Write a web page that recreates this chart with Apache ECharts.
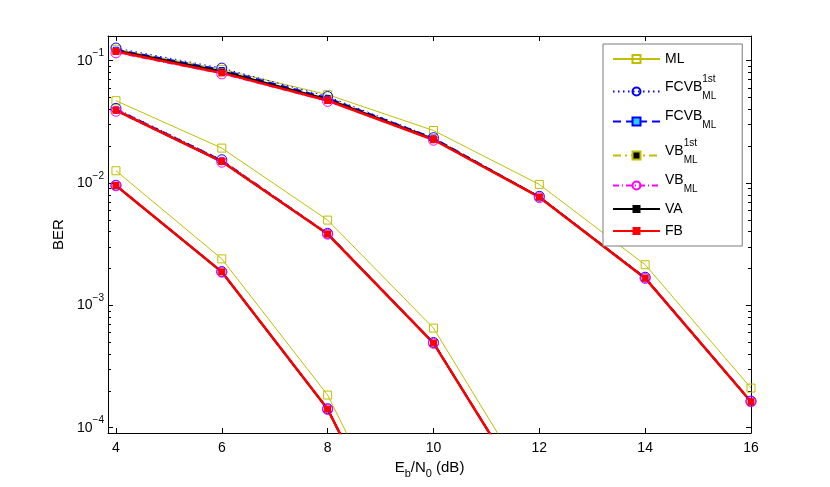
<!DOCTYPE html>
<html lang="en">
<head>
    <meta charset="UTF-8">
    <title>BER vs Eb/N0</title>
    <script src="https://cdn.jsdelivr.net/npm/echarts@6.0.0/dist/echarts.min.js"></script>
</head>
<body style="margin:0;background:#fff;">
    <div id="chart" style="width: 830px; height: 487px;"></div>

    <script>
        // Eb/N0 points (dB) for the three groups of curves
        const snrHigh = [4, 6, 8, 10, 12, 14, 16];
        const snrMid = [4, 6, 8, 10, 12];
        const snrLow = [4, 6, 8, 10];

        // BER, one array per group: [high, mid, low]
        const berML = [
            [0.124, 0.085, 0.0528, 0.0269, 0.00975, 0.00215, 2.11e-4],
            [0.0471, 0.0193, 0.00498, 6.52e-4, 2.5e-5],
            [0.0126, 0.0024, 1.85e-4, 3.4e-6]
        ];
        const berFCVB1st = [
            [0.127, 0.087, 0.051, 0.0235, 0.0078, 1.70e-3, 1.65e-4],
            [0.0408, 0.0155, 3.88e-3, 4.97e-4, 2.0e-5],
            [9.6e-3, 1.89e-3, 1.43e-4, 2.7e-6]
        ];
        const berFCVB = [
            [0.123, 0.084, 0.0495, 0.0233, 0.0077, 1.68e-3, 1.64e-4],
            [0.0400, 0.0153, 3.86e-3, 4.95e-4, 2.0e-5],
            [9.55e-3, 1.88e-3, 1.42e-4, 2.7e-6]
        ];
        const berVB1st = [
            [0.120, 0.0815, 0.048, 0.0229, 0.0077, 1.67e-3, 1.63e-4],
            [0.0396, 0.0151, 3.84e-3, 4.93e-4, 2.0e-5],
            [9.55e-3, 1.88e-3, 1.42e-4, 2.7e-6]
        ];
        const berVB = [
            [0.116, 0.078, 0.0465, 0.0224, 0.0076, 1.66e-3, 1.63e-4],
            [0.0386, 0.0148, 3.82e-3, 4.9e-4, 2.0e-5],
            [9.5e-3, 1.87e-3, 1.41e-4, 2.7e-6]
        ];
        const berVA = [
            [0.121, 0.082, 0.0485, 0.0229, 0.0077, 1.67e-3, 1.63e-4],
            [0.0395, 0.0150, 3.83e-3, 4.92e-4, 2.0e-5],
            [9.55e-3, 1.88e-3, 1.42e-4, 2.7e-6]
        ];
        const berFB = [
            [0.119, 0.0795, 0.0473, 0.0226, 0.00767, 1.67e-3, 1.63e-4],
            [0.0393, 0.0150, 3.83e-3, 4.92e-4, 2.0e-5],
            [9.55e-3, 1.88e-3, 1.42e-4, 2.7e-6]
        ];

        // ticks
        const xTicks = [4, 6, 8, 10, 12, 14, 16];
        const yDecades = [-4, -3, -2, -1];   // exponents of 10
        const yMinorMult = [2, 3, 4, 5, 6, 7, 8, 9];

        const font = '"Liberation Sans", Arial, Helvetica, sans-serif';
        const olive = '#bfbf00';

        // y is drawn as log10(BER) on a value axis
        const yMin = -4.043, yMax = -0.798;
        const yMinor = [];
        [-5, -4, -3, -2, -1].forEach(e => yMinorMult.forEach(k => {
            const v = e + Math.log10(k);
            if (v > yMin && v < yMax) yMinor.push(v);
        }));

        const snrGroups = [snrHigh, snrMid, snrLow];
        const methods = [
            {
                name: 'ML', ber: berML, symbol: 'rect', symbolSize: 8,
                lineStyle: { color: olive, width: 1 },
                itemStyle: { color: 'rgba(0,0,0,0)', borderColor: olive, borderWidth: 1 }
            },
            {
                name: 'FCVB1st', ber: berFCVB1st, symbol: 'circle', symbolSize: 10,
                lineStyle: { color: '#0000ff', width: 1, type: [1.5, 3.5] },
                itemStyle: { color: 'rgba(0,0,0,0)', borderColor: '#0000ff', borderWidth: 1 }
            },
            {
                name: 'FCVB', ber: berFCVB, symbol: 'rect', symbolSize: 5,
                lineStyle: { color: '#0000ff', width: 2, type: [8, 5] },
                itemStyle: { color: '#33ccff', borderColor: '#0000ff', borderWidth: 1 }
            },
            {
                name: 'VB1st', ber: berVB1st, symbol: 'rect', symbolSize: 5,
                lineStyle: { color: olive, width: 2, type: [8, 4, 2, 4] },
                itemStyle: { color: '#000', borderColor: olive, borderWidth: 1 }
            },
            {
                name: 'VB', ber: berVB, symbol: 'circle', symbolSize: 10,
                lineStyle: { color: '#ff00ff', width: 1, type: [6, 3, 1, 3] },
                itemStyle: { color: 'rgba(0,0,0,0)', borderColor: '#ff00ff', borderWidth: 1 }
            },
            {
                name: 'VA', ber: berVA, symbol: 'rect', symbolSize: 5,
                lineStyle: { color: '#000', width: 2 },
                itemStyle: { color: '#000' }
            },
            {
                name: 'FB', ber: berFB, symbol: 'rect', symbolSize: 7,
                lineStyle: { color: '#ff0000', width: 2.5 },
                itemStyle: { color: '#ff0000' }
            }
        ];

        const series = [];
        methods.forEach(m => {
            m.ber.forEach((vals, g) => {
                series.push({
                    name: m.name,
                    type: 'line',
                    data: snrGroups[g].map((x, i) => [x, Math.log10(vals[i])]),
                    symbol: m.symbol,
                    symbolSize: m.symbolSize,
                    showSymbol: true,
                    lineStyle: m.lineStyle,
                    itemStyle: m.itemStyle,
                    clip: true,
                    emphasis: { disabled: true }
                });
            });
        });

        const legendText = {
            ML: 'ML',
            FCVB1st: '{supF|1st}\n{m|FCVB}{sub|ML}',
            FCVB: '{m|FCVB}{sub|ML}',
            VB1st: '{supV|1st}\n{m|VB}{sub|ML}',
            VB: '{m|VB}{sub|ML}',
            VA: 'VA',
            FB: 'FB'
        };

        const axisLine = { show: true, lineStyle: { color: '#000', width: 1 } };
        const yLabel = v => '{b|10}{s|' + (v < 0 ? '\u2212' + (-v) : v) + '}';

        const chart = echarts.init(document.getElementById('chart'));
        chart.setOption({
            animation: false,
            textStyle: { fontFamily: font },
            grid: { left: 108, right: 79, top: 36, bottom: 54, containLabel: false },
            legend: {
                orient: 'vertical',
                left: 603,
                top: 44,
                itemWidth: 47,
                itemHeight: 10,
                itemGap: 8,
                padding: [8, 26, 8, 9],
                borderColor: '#7a7a7a',
                borderWidth: 1,
                backgroundColor: '#fff',
                selectedMode: false,
                data: methods.map(m => m.name),
                formatter: name => legendText[name],
                textStyle: {
                    fontFamily: font,
                    fontSize: 14,
                    color: '#000',
                    rich: {
                        m: { fontFamily: font, fontSize: 14, color: '#000', verticalAlign: 'top' },
                        sub: { fontFamily: font, fontSize: 10, color: '#000', verticalAlign: 'top', padding: [11, 0, 4, 0] },
                        supF: { fontFamily: font, fontSize: 10, color: '#000', lineHeight: 2, padding: [0, 0, 0, 37.3] },
                        supV: { fontFamily: font, fontSize: 10, color: '#000', lineHeight: 2, padding: [0, 0, 0, 18.7] }
                    }
                }
            },
            xAxis: [
                {
                    type: 'value',
                    position: 'bottom',
                    min: 3.85,
                    max: 16,
                    axisLine: axisLine,
                    axisTick: { inside: true, length: 5, customValues: xTicks, lineStyle: { color: '#000' } },
                    axisLabel: { customValues: xTicks, fontSize: 14, color: '#000', margin: 8, fontFamily: font },
                    splitLine: { show: false },
                    name: '{m|E}{s|b}{m|/N}{s|0}{m| (dB)}',
                    nameLocation: 'middle',
                    nameGap: 16,
                    nameTextStyle: {
                        fontFamily: font,
                        color: '#000',
                        rich: {
                            m: { fontFamily: font, fontSize: 15, color: '#000', verticalAlign: 'middle' },
                            s: { fontFamily: font, fontSize: 11, color: '#000', verticalAlign: 'top', padding: [14, 0, 0, 0] }
                        }
                    }
                },
                {
                    type: 'value',
                    position: 'top',
                    min: 3.85,
                    max: 16,
                    axisLine: axisLine,
                    axisTick: { inside: true, length: 5, customValues: xTicks, lineStyle: { color: '#000' } },
                    axisLabel: { show: false },
                    splitLine: { show: false }
                }
            ],
            yAxis: [
                {
                    type: 'value',
                    position: 'left',
                    min: yMin,
                    max: yMax,
                    axisLine: axisLine,
                    axisTick: { inside: true, length: 5, customValues: yDecades, lineStyle: { color: '#000' } },
                    axisLabel: {
                        customValues: yDecades,
                        margin: 4,
                        formatter: yLabel,
                        rich: {
                            b: { fontFamily: font, fontSize: 14, color: '#000', padding: [7, 0, 7, 0] },
                            s: { fontFamily: font, fontSize: 10, color: '#000', verticalAlign: 'top', padding: [2, 0, 0, 0] }
                        }
                    },
                    splitLine: { show: false },
                    name: 'BER',
                    nameLocation: 'middle',
                    nameGap: 41,
                    nameTextStyle: { fontFamily: font, fontSize: 15, color: '#000' }
                },
                {
                    type: 'value',
                    position: 'left',
                    min: yMin,
                    max: yMax,
                    axisLine: { show: false },
                    axisTick: { inside: true, length: 3, customValues: yMinor, lineStyle: { color: '#000' } },
                    axisLabel: { show: false },
                    splitLine: { show: false }
                },
                {
                    type: 'value',
                    position: 'right',
                    min: yMin,
                    max: yMax,
                    axisLine: axisLine,
                    axisTick: { inside: true, length: 5, customValues: yDecades, lineStyle: { color: '#000' } },
                    axisLabel: { show: false },
                    splitLine: { show: false }
                },
                {
                    type: 'value',
                    position: 'right',
                    min: yMin,
                    max: yMax,
                    axisLine: { show: false },
                    axisTick: { inside: true, length: 3, customValues: yMinor, lineStyle: { color: '#000' } },
                    axisLabel: { show: false },
                    splitLine: { show: false }
                }
            ],
            series: series
        });
    </script>
</body>
</html>
